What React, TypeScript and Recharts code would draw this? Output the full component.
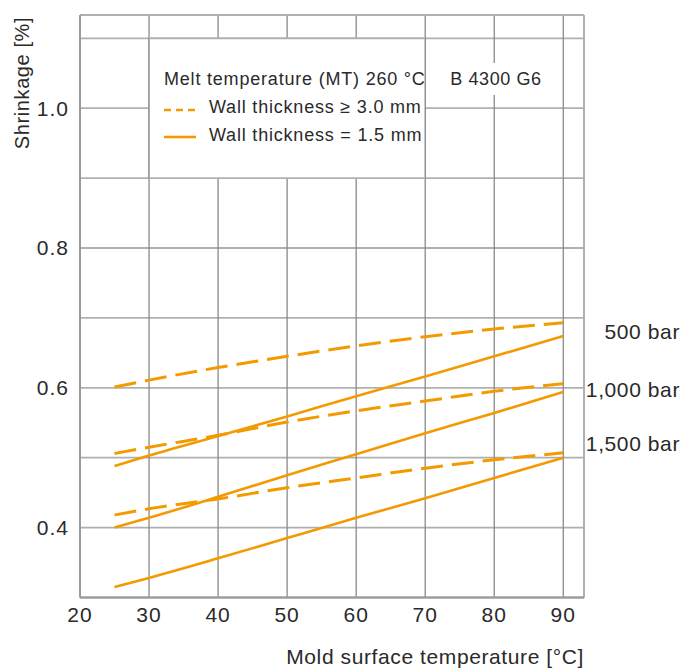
import React from "react";
import {
  LineChart,
  Line,
  XAxis,
  YAxis,
  CartesianGrid,
  ReferenceArea,
  ReferenceLine,
} from "recharts";

const temps = [25, 30, 40, 50, 60, 70, 80, 90];
const thick500 = [0.601, 0.611, 0.629, 0.645, 0.66, 0.673, 0.684, 0.693];
const thin500 = [0.488, 0.503, 0.531, 0.559, 0.588, 0.616, 0.645, 0.674];
const thick1000 = [0.506, 0.515, 0.532, 0.551, 0.567, 0.581, 0.595, 0.606];
const thin1000 = [0.4, 0.414, 0.444, 0.475, 0.505, 0.535, 0.564, 0.594];
const thick1500 = [0.418, 0.427, 0.441, 0.457, 0.471, 0.485, 0.497, 0.507];
const thin1500 = [0.315, 0.328, 0.356, 0.385, 0.414, 0.442, 0.471, 0.5];

const xTicks = [20, 30, 40, 50, 60, 70, 80, 90];
const yTicks = [0.3, 0.4, 0.5, 0.6, 0.7, 0.8, 0.9, 1.0, 1.1];
const yLabels = ["0.4", "0.6", "0.8", "1.0"];
const pressureLabels = ["500 bar", "1,000 bar", "1,500 bar"];

const data = temps.map((t, i) => ({
  t,
  thick500: thick500[i],
  thin500: thin500[i],
  thick1000: thick1000[i],
  thin1000: thin1000[i],
  thick1500: thick1500[i],
  thin1500: thin1500[i],
}));

const ORANGE = "#f39a00";
const FONT = "'Liberation Sans', Arial, sans-serif";
const TEXT = "#2a2a2a";

const dashedKeys = ["thick500", "thick1000", "thick1500"];
const solidKeys = ["thin500", "thin1000", "thin1500"];

export default function App() {
  const tickStyle = { fontSize: 21, fill: TEXT, fontFamily: FONT, letterSpacing: 1 };
  return (
    <div
      style={{
        position: "absolute",
        left: 0,
        top: 0,
        width: 696,
        height: 668,
        background: "#fff",
        fontFamily: FONT,
        color: TEXT,
      }}
    >
      <LineChart
        width={696}
        height={668}
        data={data}
        margin={{ top: 15, right: 112, bottom: 0, left: 0 }}
      >
        <CartesianGrid vertical={false} stroke="#b0b0b0" strokeWidth={1.8} />
        <CartesianGrid horizontal={false} stroke="#8a8a8a" strokeWidth={1.3} />
        <XAxis
          dataKey="t"
          type="number"
          domain={[20, 93]}
          ticks={xTicks}
          height={70.5}
          tickLine={false}
          tickSize={0}
          tickMargin={10}
          axisLine={{ stroke: "#999", strokeWidth: 1.8 }}
          tick={tickStyle}
          interval={0}
        />
        <YAxis
          type="number"
          domain={[0.3, 1.1333]}
          ticks={yTicks}
          width={80}
          tickLine={false}
          tickSize={0}
          tickMargin={11}
          axisLine={{ stroke: "#999", strokeWidth: 1.8 }}
          tick={tickStyle}
          interval={0}
          tickFormatter={(v: number) => {
            const s = v.toFixed(1);
            return yLabels.includes(s) ? s : "";
          }}
        />
        <ReferenceLine y={1.1333} stroke="#b0b0b0" strokeWidth={1.8} />
        <ReferenceLine x={93} stroke="#b0b0b0" strokeWidth={1.8} />
        <ReferenceArea
          x1={30}
          x2={70}
          y1={0.9}
          y2={1.1}
          fill="#fff"
          fillOpacity={1}
          stroke="none"
        />
        <ReferenceLine
          segment={[{ x: 30, y: 0.9 }, { x: 30, y: 1.1 }]}
          stroke="#8a8a8a"
          strokeWidth={1.3}
        />
        <ReferenceLine
          segment={[{ x: 70, y: 0.9 }, { x: 70, y: 1.1 }]}
          stroke="#8a8a8a"
          strokeWidth={1.3}
        />
        <ReferenceLine
          segment={[{ x: 30, y: 1.1 }, { x: 70, y: 1.1 }]}
          stroke="#b0b0b0"
          strokeWidth={1.8}
        />
        <ReferenceLine
          segment={[{ x: 30, y: 0.9 }, { x: 70, y: 0.9 }]}
          stroke="#b0b0b0"
          strokeWidth={1.8}
        />
        {dashedKeys.map((k) => (
          <Line
            key={k}
            dataKey={k}
            type="monotone"
            stroke={ORANGE}
            strokeWidth={3}
            strokeDasharray="22 9"
            dot={false}
            activeDot={false}
            isAnimationActive={false}
          />
        ))}
        {solidKeys.map((k) => (
          <Line
            key={k}
            dataKey={k}
            type="monotone"
            stroke={ORANGE}
            strokeWidth={2.6}
            dot={false}
            activeDot={false}
            isAnimationActive={false}
          />
        ))}
      </LineChart>

      {/* legend inside the white box */}
      <div style={{ position: "absolute", left: 164, top: 69, fontSize: 18, letterSpacing: 0.8, whiteSpace: "nowrap" }}>
        Melt temperature (MT) 260 °C
      </div>
      <svg style={{ position: "absolute", left: 164, top: 100 }} width={34} height={44}>
        <line x1={0} y1={10} x2={32} y2={10} stroke={ORANGE} strokeWidth={2.6} strokeDasharray="7 5" />
        <line x1={0} y1={37} x2={32} y2={37} stroke={ORANGE} strokeWidth={2.6} />
      </svg>
      <div style={{ position: "absolute", left: 209, top: 97, fontSize: 18, letterSpacing: 0.8, whiteSpace: "nowrap" }}>
        Wall thickness ≥ 3.0 mm
      </div>
      <div style={{ position: "absolute", left: 209, top: 125, fontSize: 18, letterSpacing: 0.8, whiteSpace: "nowrap" }}>
        Wall thickness = 1.5 mm
      </div>

      <div
        style={{
          position: "absolute",
          left: 446,
          top: 63,
          width: 100,
          height: 32,
          background: "#fff",
          fontSize: 18,
          letterSpacing: 0.6,
          lineHeight: "32px",
          textAlign: "center",
        }}
      >
        B 4300 G6
      </div>

      {/* pressure labels */}
      {pressureLabels.map((p, i) => (
        <div
          key={p}
          style={{
            position: "absolute",
            right: 16,
            top: [320, 378, 432][i],
            fontSize: 21,
            letterSpacing: 0.6,
            whiteSpace: "nowrap",
          }}
        >
          {p}
        </div>
      ))}

      {/* axis titles */}
      <div
        style={{
          position: "absolute",
          left: 22,
          top: 83,
          fontSize: 20,
          letterSpacing: 0.6,
          whiteSpace: "nowrap",
          transform: "translate(-50%, -50%) rotate(-90deg)",
        }}
      >
        Shrinkage [%]
      </div>
      <div
        style={{
          position: "absolute",
          right: 112,
          top: 645,
          fontSize: 21,
          letterSpacing: 0.6,
          whiteSpace: "nowrap",
        }}
      >
        Mold surface temperature [°C]
      </div>
    </div>
  );
}
